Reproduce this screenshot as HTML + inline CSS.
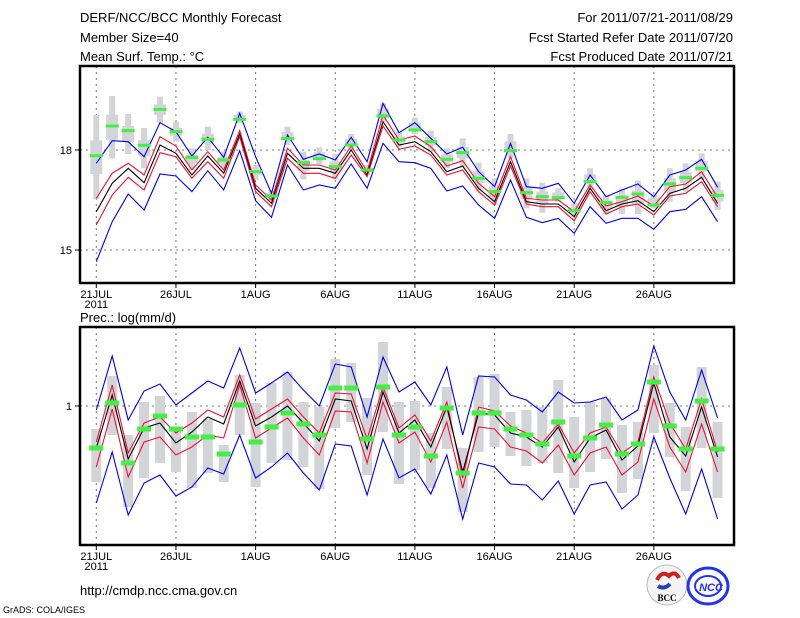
<!DOCTYPE html>
<html><head><meta charset="utf-8">
<style>
html,body{margin:0;padding:0;background:#fff;}
svg{display:block;font-family:"Liberation Sans",sans-serif;}
</style></head>
<body>
<svg id="chart" width="800" height="618" viewBox="0 0 800 618" xmlns="http://www.w3.org/2000/svg">
<g font-size="13" fill="#000">
<text x="80" y="22">DERF/NCC/BCC Monthly Forecast</text>
<text x="80" y="42">Member Size=40</text>
<text x="80" y="61">Mean Surf. Temp.: °C</text>
<text x="733" y="22" text-anchor="end">For 2011/07/21-2011/08/29</text>
<text x="733" y="42" text-anchor="end">Fcst Started Refer Date 2011/07/20</text>
<text x="733" y="61" text-anchor="end">Fcst Produced Date 2011/07/21</text>
<text x="80" y="322">Prec.: log(mm/d)</text>
<text x="80" y="595">http://cmdp.ncc.cma.gov.cn</text>
<text x="3" y="613" font-size="9">GrADS: COLA/IGES</text>
</g>
<g>
<circle cx="667" cy="585" r="20" fill="#f4f4f4" stroke="#bbb"/>
<path d="M657 580 q5 -10 12 -4 q6 -6 10 2" stroke="#d02020" stroke-width="4" fill="none"/>
<path d="M658 586 q6 4 12 -2" stroke="#2040c0" stroke-width="4" fill="none"/>
<text x="667" y="601" font-size="9" text-anchor="middle" font-family="Liberation Serif,serif" font-weight="bold">BCC</text>
</g>
<g>
<ellipse cx="708" cy="586" rx="20" ry="18" fill="none" stroke="#2233ee" stroke-width="3"/>
<ellipse cx="708" cy="586" rx="13" ry="10" fill="none" stroke="#2233ee" stroke-width="2"/>
<text x="711" y="591" font-size="11" fill="#2233ee" text-anchor="middle" font-weight="bold" font-style="italic">NCC</text>
</g>
<g id="plots"></g>
</svg>
<script>
const dateLabels = ["21JUL","26JUL","1AUG","6AUG","11AUG","16AUG","21AUG","26AUG"];
const tGrayHi = [19.05,19.62,19.08,18.66,19.60,18.85,18.05,18.70,17.95,19.15,17.55,16.80,18.70,17.95,18.08,17.88,18.48,17.55,19.40,18.55,18.97,18.58,18.05,18.35,17.62,17.15,18.48,17.15,17.02,16.85,16.40,17.45,16.65,16.85,17.08,16.70,17.45,17.60,17.90,17.05];
const tGrayLo = [16.52,17.75,17.88,17.45,18.82,18.25,17.40,18.00,17.45,18.80,17.10,16.50,18.15,17.12,17.58,17.12,17.98,17.25,18.85,18.08,18.48,17.95,17.45,17.50,16.75,16.35,17.75,16.25,16.12,16.45,16.00,16.85,16.08,16.08,16.08,16.25,16.45,16.75,17.12,16.20];
const tBlueMax = [17.60,18.28,18.25,17.80,18.82,18.55,17.82,18.38,17.78,19.10,17.80,16.70,18.45,17.72,17.88,17.70,18.38,17.65,19.40,18.52,18.82,18.35,17.88,18.08,17.35,16.90,18.20,16.90,16.85,17.00,16.40,17.25,16.60,16.80,16.98,16.60,17.25,17.40,17.72,16.88];
const tRedHi = [16.55,17.30,17.60,17.25,18.40,18.12,17.40,17.95,17.40,18.58,16.95,16.50,18.05,17.55,17.55,17.40,18.12,17.35,19.05,18.30,18.42,18.10,17.52,17.68,17.00,16.60,17.80,16.55,16.50,16.50,16.15,16.95,16.32,16.45,16.62,16.32,16.90,16.98,17.35,16.58];
const tMean = [16.15,17.00,17.45,17.02,18.15,17.90,17.25,17.82,17.30,18.48,16.85,16.40,17.90,17.45,17.45,17.30,18.00,17.25,18.85,18.15,18.25,17.95,17.35,17.52,16.85,16.45,17.65,16.45,16.38,16.38,16.00,16.85,16.18,16.38,16.48,16.15,16.70,16.85,17.18,16.40];
const tRedLo = [15.75,16.65,17.18,16.80,17.92,17.80,17.15,17.65,17.15,18.40,16.75,16.30,17.75,17.30,17.30,17.15,17.85,17.20,18.72,18.02,18.12,17.85,17.25,17.40,16.75,16.35,17.52,16.38,16.30,16.30,15.88,16.75,16.08,16.30,16.38,16.05,16.62,16.70,17.05,16.30];
const tBlueMin = [14.65,15.85,16.68,16.20,17.28,17.22,16.75,17.38,16.80,17.98,16.48,15.98,17.55,16.80,16.95,16.85,17.58,16.85,18.20,17.65,17.62,17.45,16.77,16.92,16.35,15.95,17.10,15.98,15.82,15.95,15.50,16.30,15.80,15.95,15.95,15.62,16.15,16.22,16.60,15.85];
const tObs = [17.83,18.72,18.58,18.14,19.22,18.55,17.78,18.32,17.70,18.92,17.35,16.62,18.34,17.62,17.74,17.50,18.15,17.40,19.02,18.30,18.60,18.25,17.72,17.92,17.15,16.75,17.98,16.72,16.60,16.57,16.18,17.05,16.42,16.58,16.68,16.35,16.98,17.17,17.45,16.64];
const tTicks = [15,18];

const pGrayHi = [-0.23,0.30,-0.29,0.04,0.10,-0.21,-0.06,-0.13,-0.39,0.31,0.03,0.23,0.34,0.04,-0.01,0.47,0.43,0.08,0.64,0.04,0.05,-0.27,0.19,-0.42,0.29,0.32,-0.06,-0.04,-0.01,0.26,-0.11,0.04,0.08,-0.19,-0.16,0.41,0.03,-0.21,0.39,-0.16];
const pGrayLo = [-0.76,-0.29,-1.01,-0.72,-0.57,-0.66,-0.82,-0.67,-0.76,-0.29,-0.81,-0.57,-0.54,-0.61,-0.83,-0.22,-0.16,-0.69,-0.26,-0.78,-0.64,-0.82,-0.43,-1.06,-0.46,-0.41,-0.50,-0.60,-0.57,-0.67,-0.82,-0.66,-0.53,-0.87,-0.73,-0.27,-0.51,-0.85,-0.42,-0.92];
const pBlueMax = [-0.04,0.50,-0.14,0.15,0.22,0.01,0.13,0.25,0.18,0.58,0.13,0.23,0.34,0.16,0.00,0.42,0.39,-0.11,0.49,0.14,0.24,0.01,0.39,-0.29,0.30,0.29,0.11,0.06,-0.06,0.14,0.03,0.04,0.09,-0.14,-0.04,0.60,0.14,-0.14,0.36,-0.12];
const pRedHi = [-0.36,0.21,-0.47,-0.17,-0.11,-0.27,-0.17,-0.04,-0.11,0.31,-0.13,-0.03,0.07,-0.11,-0.27,0.13,0.12,-0.33,0.19,-0.22,-0.09,-0.35,0.04,-0.72,-0.01,-0.05,-0.20,-0.27,-0.37,-0.18,-0.47,-0.27,-0.21,-0.47,-0.36,0.29,-0.17,-0.43,0.07,-0.46];
const pMean = [-0.42,0.11,-0.53,-0.22,-0.17,-0.37,-0.26,-0.11,-0.18,0.25,-0.20,-0.11,0.00,-0.17,-0.35,0.07,0.05,-0.43,0.14,-0.27,-0.14,-0.41,-0.01,-0.66,-0.07,-0.09,-0.27,-0.31,-0.41,-0.21,-0.56,-0.32,-0.24,-0.54,-0.40,0.23,-0.31,-0.50,-0.01,-0.51];
const pRedLo = [-0.61,-0.03,-0.71,-0.36,-0.31,-0.49,-0.41,-0.29,-0.32,0.21,-0.32,-0.22,-0.12,-0.32,-0.49,-0.05,-0.06,-0.57,0.04,-0.37,-0.26,-0.56,-0.16,-0.82,-0.21,-0.23,-0.41,-0.45,-0.57,-0.39,-0.69,-0.47,-0.41,-0.69,-0.56,0.07,-0.41,-0.66,-0.18,-0.66];
const pBlueMin = [-0.97,-0.46,-1.09,-0.77,-0.69,-0.90,-0.81,-0.62,-0.68,-0.29,-0.72,-0.61,-0.47,-0.67,-0.84,-0.38,-0.40,-0.89,-0.33,-0.72,-0.63,-0.88,-0.49,-1.13,-0.57,-0.61,-0.78,-0.79,-0.94,-0.75,-1.08,-0.79,-0.76,-1.03,-0.89,-0.31,-0.72,-1.08,-0.63,-1.13];
const pObs = [-0.42,0.03,-0.57,-0.23,-0.10,-0.23,-0.31,-0.31,-0.48,0.01,-0.36,-0.21,-0.07,-0.18,-0.29,0.18,0.18,-0.33,0.19,-0.29,-0.21,-0.50,-0.02,-0.67,-0.07,-0.07,-0.23,-0.29,-0.38,-0.16,-0.50,-0.32,-0.19,-0.48,-0.38,0.24,-0.20,-0.43,0.05,-0.43];
const pTicks = [0];
const pTickLabels = ["1"];

const NS = "http://www.w3.org/2000/svg";
const root = document.getElementById("plots");
function xDay(i){ return 96.3 + 15.93*i; }
function mk(tag, attrs, parent){ const e=document.createElementNS(NS,tag); for(const k in attrs) e.setAttribute(k,attrs[k]); parent.appendChild(e); return e; }

function panel(name, top, bottom, yScale, ticks, tickLabels, d, wideBox){
  const g = mk("g",{},root);
  
  
  // grid
  for(let k=0;k<dateLabels.length;k++){
    const x=xDay(k*5);
    const gl=mk("line",{x1:x,x2:x,y1:top,y2:bottom,stroke:"#777","stroke-dasharray":"2,4","stroke-width":1},g);
    
    
    const tk=mk("line",{x1:x,x2:x,y1:bottom,y2:bottom+5,stroke:"#000"},g);
    
    
    const t=mk("text",{x:x,y:bottom+15,"font-size":11,"text-anchor":"middle"},g);
    t.textContent=dateLabels[k];
    
    
  }
  const yr=mk("text",{x:xDay(0),y:bottom+25,"font-size":11,"text-anchor":"middle"},g);
  yr.textContent="2011";
  
  
  ticks.forEach((v,j)=>{
    const y=yScale(v);
    const gl=mk("line",{x1:80,x2:734,y1:y,y2:y,stroke:"#777","stroke-dasharray":"2,4"},g);
    
    
    const tk=mk("line",{x1:75,x2:80,y1:y,y2:y,stroke:"#000"},g);
    
    
    const t=mk("text",{x:72,y:y+4,"font-size":11,"text-anchor":"end"},g);
    t.textContent=tickLabels[j];
    
    
  });
  // gray bars
  d.hi.forEach((h,i)=>{
    const x=xDay(i), y1=yScale(h), y2=yScale(d.lo[i]);
    const w = wideBox?6:10;
    const r=mk("rect",{x:x-w/2,y:y1,width:w,height:y2-y1,fill:"#d3d4d8"},g);
    
    
    if(wideBox){
      const b=mk("rect",{x:x-6,y:y1+(y2-y1)*0.3,width:12,height:(y2-y1)*0.4,fill:"#d3d4d8"},g);
      
      
    }
  });
  const series=[[d.bmax,"#0000ee","blue-max-line"],[d.rhi,"#ee1133","red-upper-line"],[d.mean,"#000","mean-line"],[d.rlo,"#ee1133","red-lower-line"],[d.bmin,"#0000ee","blue-min-line"]];
  series.forEach(s=>{
    const p=mk("polyline",{points:s[0].map((v,i)=>xDay(i).toFixed(1)+","+yScale(v).toFixed(1)).join(" "),fill:"none",stroke:s[1],"stroke-width":1.1},g);
    
    
  });
  d.obs.forEach((v,i)=>{
    const hh = wideBox?3:5, ww = wideBox?13:14;
    const r=mk("rect",{x:xDay(i)-ww/2,y:yScale(v)-hh/2,width:ww,height:hh,fill:"#44ee44"},g);
    
    
  });
  const fr=mk("rect",{x:80,y:top,width:654,height:bottom-top,fill:"none",stroke:"#000","stroke-width":2.5},g);
  
  
}
function yTemp(v){ return 150 - (v-18)*33.33; }
function yPrec(v){ return 406 - v*100; }
panel("temperature-panel",66,283,yTemp,tTicks,tTicks.map(String),{hi:tGrayHi,lo:tGrayLo,bmax:tBlueMax,rhi:tRedHi,mean:tMean,rlo:tRedLo,bmin:tBlueMin,obs:tObs},true);
panel("precipitation-panel",327,545,yPrec,pTicks,pTickLabels,{hi:pGrayHi,lo:pGrayLo,bmax:pBlueMax,rhi:pRedHi,mean:pMean,rlo:pRedLo,bmin:pBlueMin,obs:pObs},false);
</script>
</body></html>
